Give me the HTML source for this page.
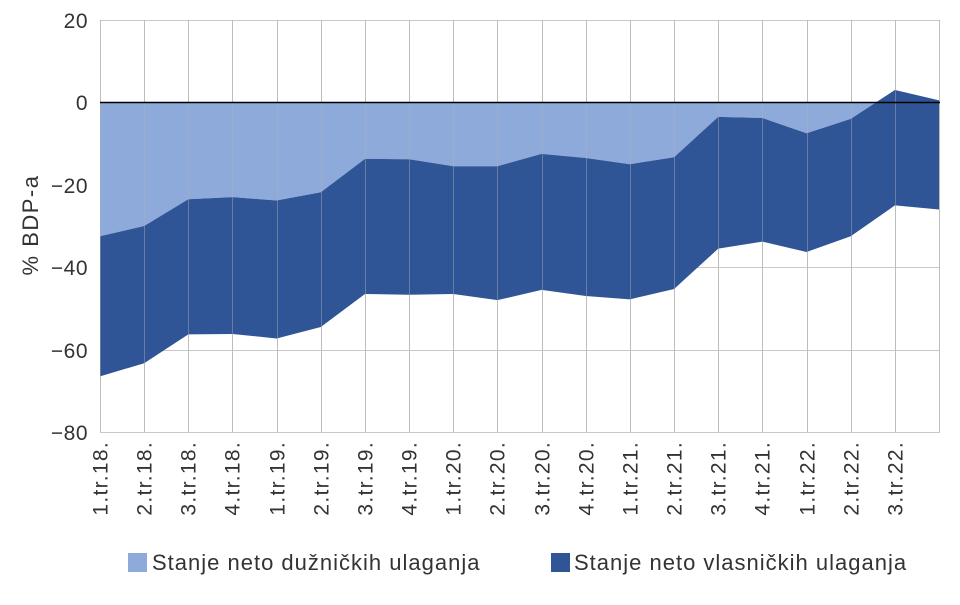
<!DOCTYPE html>
<html><head><meta charset="utf-8"><style>
body{margin:0;background:#fff;width:960px;height:600px;overflow:hidden;font-family:"Liberation Sans",sans-serif}
</style></head><body>
<svg width="960" height="600" xmlns="http://www.w3.org/2000/svg" font-family="Liberation Sans, sans-serif">
<g stroke="#c8c8c8" stroke-width="1">
<line x1="100" y1="20.5" x2="940" y2="20.5"/>
<line x1="100" y1="185.5" x2="940" y2="185.5"/>
<line x1="100" y1="267.5" x2="940" y2="267.5"/>
<line x1="100" y1="350.5" x2="940" y2="350.5"/>
<line x1="100" y1="432.5" x2="940" y2="432.5"/>
</g>
<g stroke="#c8c8c8" stroke-width="1" id="vg"></g>
<g transform="translate(100,102.4) scale(44.16,-4.12)">
<polygon fill="#8eaadb" points="0,0 0,-32.5 1,-30 2,-23.5 3,-23 4,-23.8 5,-21.8 6,-13.7 7,-13.8 8,-15.5 9,-15.5 10,-12.5 11,-13.5 12,-15 13,-13.3 14,-3.5 15,-3.8 16,-7.5 17,-4 18,3 19,0.5 19,0"/>
<polygon fill="#2f5597" points="0,-32.5 1,-30 2,-23.5 3,-23 4,-23.8 5,-21.8 6,-13.7 7,-13.8 8,-15.5 9,-15.5 10,-12.5 11,-13.5 12,-15 13,-13.3 14,-3.5 15,-3.8 16,-7.5 17,-4 18,3 19,0.5 19,-26 18,-25 17,-32.5 16,-36.3 15,-33.8 14,-35.5 13,-45.3 12,-47.8 11,-47 10,-45.5 9,-48 8,-46.5 7,-46.7 6,-46.5 5,-54.5 4,-57.3 3,-56.2 2,-56.3 1,-63.3 0,-66.5"/>
</g>
<g id="vg2" stroke="#b0b0b0" stroke-opacity="0.45" stroke-width="1"></g>
<line x1="100" y1="102.5" x2="940" y2="102.5" stroke="#000" stroke-width="1.5"/>
<g font-size="21" fill="#333" text-anchor="end" letter-spacing="0.5">
<text x="88" y="28">20</text>
<text x="88" y="110">0</text>
<text x="88" y="193">−20</text>
<text x="88" y="275">−40</text>
<text x="88" y="358">−60</text>
<text x="88" y="440">−80</text>
</g>
<text transform="translate(38,225) rotate(-90)" font-size="22" fill="#333" text-anchor="middle" letter-spacing="1.5">% BDP-a</text>
<g id="xl" font-size="21" fill="#333" text-anchor="end" letter-spacing="1.3"></g>
<rect x="128" y="553" width="19" height="19" fill="#8eaadb"/>
<text x="152" y="570" font-size="22" fill="#333" letter-spacing="1">Stanje neto dužničkih ulaganja</text>
<rect x="551" y="553" width="19" height="19" fill="#2f5597"/>
<text x="574" y="570" font-size="22" fill="#333" letter-spacing="1">Stanje neto vlasničkih ulaganja</text>
<script>
var labs=["1.tr.18.","2.tr.18.","3.tr.18.","4.tr.18.","1.tr.19.","2.tr.19.","3.tr.19.","4.tr.19.","1.tr.20.","2.tr.20.","3.tr.20.","4.tr.20.","1.tr.21.","2.tr.21.","3.tr.21.","4.tr.21.","1.tr.22.","2.tr.22.","3.tr.22."];
var ns="http://www.w3.org/2000/svg",vg=document.getElementById("vg"),vg2=document.getElementById("vg2"),xl=document.getElementById("xl");
for(var i=0;i<20;i++){var x=Math.round(100+i*44.16)+0.5;
[vg,vg2].forEach(function(g){var l=document.createElementNS(ns,"line");l.setAttribute("x1",x);l.setAttribute("x2",x);l.setAttribute("y1",20);l.setAttribute("y2",432);g.appendChild(l);});
if(i<19){var t=document.createElementNS(ns,"text");t.setAttribute("transform","translate("+(x+7)+",441) rotate(-90)");t.textContent=labs[i];xl.appendChild(t);}}
</script>
</svg>
</body></html>
